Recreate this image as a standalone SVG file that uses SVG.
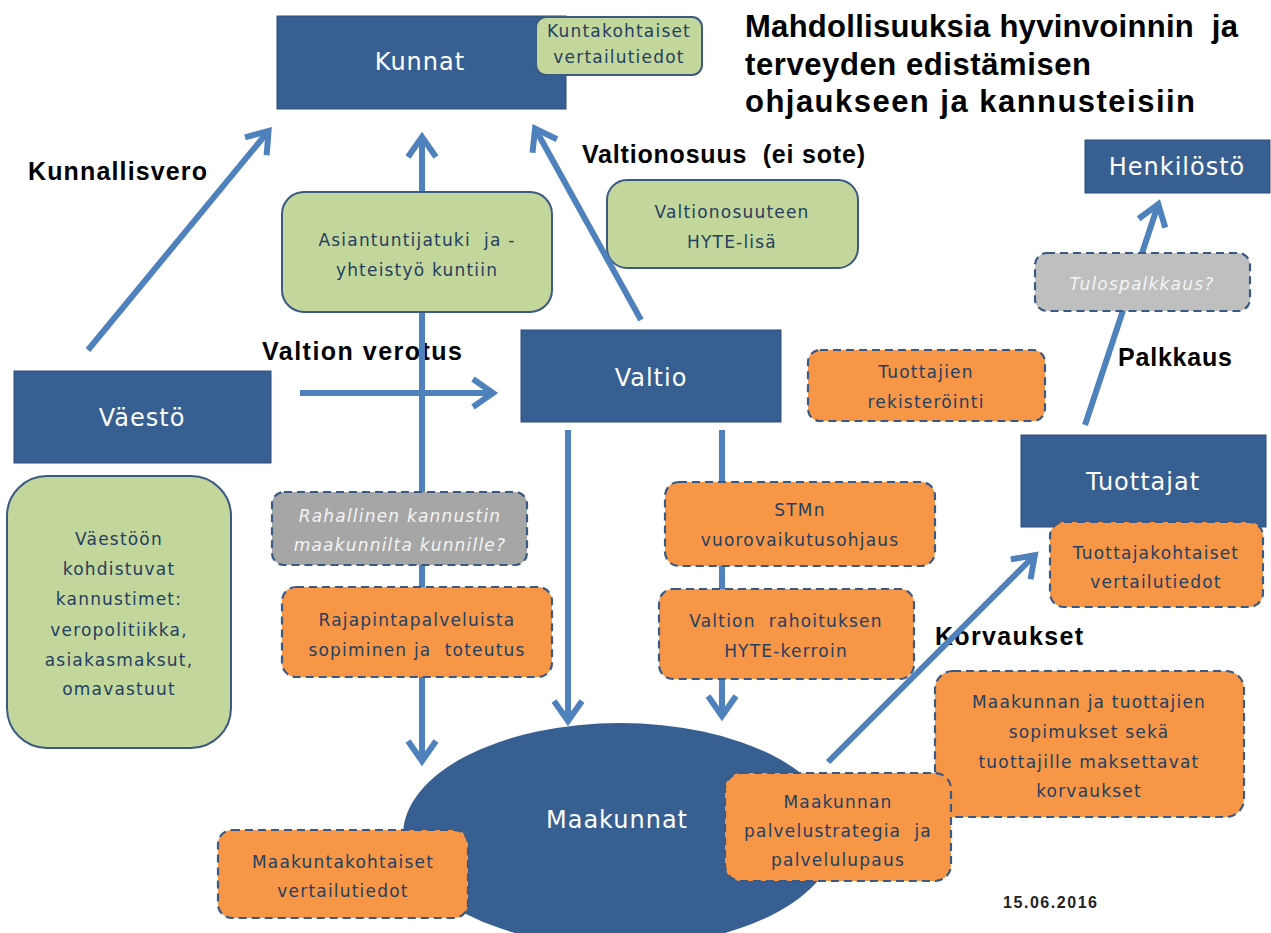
<svg xmlns="http://www.w3.org/2000/svg" width="1271" height="933" viewBox="0 0 1271 933">
<style>
.blue{fill:#375f91;stroke:#2c4d76;stroke-width:1}
.green{fill:#c3d69b;stroke:#3a5a84;stroke-width:2}
.orange{fill:#f79646;stroke:#3a5a84;stroke-width:2.2;stroke-dasharray:8 5}
.gray{fill:#bfbfbf;stroke:#3a5a84;stroke-width:2.2;stroke-dasharray:8 5}
.gray2{fill:#a6a6a6;stroke:#3a5a84;stroke-width:2.2;stroke-dasharray:8 5}
.wt{fill:#fff;font-family:"DejaVu Sans","Liberation Sans",sans-serif;font-size:24px;text-anchor:middle;letter-spacing:1px}
.bt{fill:#243f60;font-family:"DejaVu Sans","Liberation Sans",sans-serif;font-size:17px;text-anchor:middle;letter-spacing:1.2px}
.it{fill:#f4f4f4;font-style:italic}
.lbl{fill:#000;font-family:"Liberation Sans",Arial,sans-serif;font-weight:bold;font-size:25px}
.ttl{fill:#000;font-family:"Liberation Sans",Arial,sans-serif;font-weight:bold;font-size:31px}
.conn{stroke:#4f81bd;stroke-width:6;fill:none}
</style>
<defs>
<marker id="ah" viewBox="0 0 30 34" refX="22" refY="17" markerWidth="30" markerHeight="34" markerUnits="userSpaceOnUse" orient="auto-start-reverse" overflow="visible">
<path d="M6,3 L26,17 L6,31" fill="none" stroke="#4f81bd" stroke-width="6"/>
</marker>
</defs>
<rect width="1271" height="933" fill="#fff"/>

<g id="title">
<text class="ttl" x="745" y="37" textLength="493" xml:space="preserve">Mahdollisuuksia hyvinvoinnin  ja</text>
<text class="ttl" x="745" y="75" textLength="346">terveyden edistämisen</text>
<text class="ttl" x="745" y="112" textLength="450">ohjaukseen ja kannusteisiin</text>
</g>

<g id="labels">
<text class="lbl" x="28" y="180" textLength="179">Kunnallisvero</text>
<text class="lbl" x="582" y="163" textLength="283" xml:space="preserve">Valtionosuus  (ei sote)</text>
<text class="lbl" x="262" y="360" textLength="200">Valtion verotus</text>
<text class="lbl" x="1118" y="366" textLength="114">Palkkaus</text>
<text class="lbl" x="935" y="645" textLength="148">Korvaukset</text>
<text x="1003" y="908" font-family="Liberation Sans, Arial, sans-serif" font-size="16" font-weight="bold" fill="#222" textLength="94">15.06.2016</text>
</g>

<g id="kunnat"><rect class="blue" x="277" y="16" width="289" height="93"/><text class="wt" x="420" y="70">Kunnat</text></g>
<g id="henkilosto"><rect class="blue" x="1085" y="140" width="185" height="53"/><text class="wt" x="1177" y="175">Henkilöstö</text></g>
<g id="vaesto"><rect class="blue" x="14" y="371" width="257" height="92"/><text class="wt" x="142" y="426">Väestö</text></g>
<g id="valtio"><rect class="blue" x="521" y="330" width="260" height="92"/><text class="wt" x="651" y="386">Valtio</text></g>
<g id="tuottajat"><rect class="blue" x="1021" y="435" width="245" height="92"/><text class="wt" x="1143" y="490">Tuottajat</text></g>
<g id="maakunnat"><ellipse cx="620" cy="835" rx="217" ry="112" fill="#375f91"/><text class="wt" x="617" y="828" letter-spacing="2.5">Maakunnat</text></g>

<g id="valtionosuuteen"><rect class="green" x="607" y="180" width="251" height="88" rx="20"/><text class="bt" x="732" y="218">Valtionosuuteen</text><text class="bt" x="732" y="248">HYTE-lisä</text></g>

<g id="connectors">
<line class="conn" x1="88" y1="350" x2="266" y2="134" marker-end="url(#ah)"/>
<line class="conn" x1="422" y1="141" x2="422" y2="757" marker-start="url(#ah)" marker-end="url(#ah)"/>
<line class="conn" x1="300" y1="393" x2="489" y2="393" marker-end="url(#ah)"/>
<line class="conn" x1="641" y1="320" x2="537" y2="132" marker-end="url(#ah)"/>
<line class="conn" x1="568" y1="430" x2="568" y2="717" marker-end="url(#ah)"/>
<line class="conn" x1="722" y1="430" x2="722" y2="712" marker-end="url(#ah)"/>
<line class="conn" x1="828" y1="762" x2="1032" y2="558" marker-end="url(#ah)"/>
<line class="conn" x1="1085" y1="425" x2="1157" y2="208" marker-end="url(#ah)"/>
</g>

<g id="kuntakohtaiset"><rect class="green" x="536" y="17" width="166" height="58" rx="10"/><text class="bt" x="619" y="37" font-size="14" letter-spacing="0.8">Kuntakohtaiset</text><text class="bt" x="619" y="63" font-size="14" letter-spacing="0.8">vertailutiedot</text></g>
<g id="asiantuntijatuki"><rect class="green" x="282" y="192" width="270" height="120" rx="22"/><text class="bt" x="417" y="246" xml:space="preserve">Asiantuntijatuki  ja -</text><text class="bt" x="417" y="276">yhteistyö kuntiin</text></g>
<g id="tulospalkkaus"><rect class="gray" x="1035" y="253" width="215" height="58" rx="12"/><text class="bt it" x="1142" y="290">Tulospalkkaus?</text></g>
<g id="rekisterointi"><rect class="orange" x="808" y="350" width="237" height="71" rx="12"/><text class="bt" x="926" y="378">Tuottajien</text><text class="bt" x="926" y="408">rekisteröinti</text></g>
<g id="vaestoon"><rect class="green" x="7" y="476" width="224" height="272" rx="40"/>
<text class="bt" x="119" y="545">Väestöön</text><text class="bt" x="119" y="575">kohdistuvat</text><text class="bt" x="119" y="605">kannustimet:</text><text class="bt" x="119" y="636">veropolitiikka,</text><text class="bt" x="119" y="666">asiakasmaksut,</text><text class="bt" x="119" y="695">omavastuut</text></g>
<g id="rahallinen"><rect class="gray2" x="272" y="492" width="255" height="73" rx="12"/><text class="bt it" x="400" y="522">Rahallinen kannustin</text><text class="bt it" x="400" y="551">maakunnilta kunnille?</text></g>
<g id="rajapinta"><rect class="orange" x="282" y="587" width="270" height="90" rx="14"/><text class="bt" x="417" y="626">Rajapintapalveluista</text><text class="bt" x="417" y="656" xml:space="preserve">sopiminen ja  toteutus</text></g>
<g id="stmn"><rect class="orange" x="665" y="482" width="270" height="84" rx="14"/><text class="bt" x="800" y="516">STMn</text><text class="bt" x="800" y="546">vuorovaikutusohjaus</text></g>
<g id="tuottajakohtaiset"><rect class="orange" x="1050" y="522" width="213" height="85" rx="14"/><text class="bt" x="1156" y="559">Tuottajakohtaiset</text><text class="bt" x="1156" y="588">vertailutiedot</text></g>
<g id="rahoituksen"><rect class="orange" x="659" y="589" width="255" height="90" rx="14"/><text class="bt" x="786" y="627" xml:space="preserve">Valtion  rahoituksen</text><text class="bt" x="786" y="657">HYTE-kerroin</text></g>
<g id="sopimukset"><rect class="orange" x="935" y="671" width="309" height="146" rx="18"/><text class="bt" x="1089" y="708">Maakunnan ja tuottajien</text><text class="bt" x="1089" y="738">sopimukset sekä</text><text class="bt" x="1089" y="768">tuottajille maksettavat</text><text class="bt" x="1089" y="797">korvaukset</text></g>
<g id="palvelustrategia"><rect class="orange" x="725" y="773" width="226" height="108" rx="16"/><text class="bt" x="838" y="808">Maakunnan</text><text class="bt" x="838" y="837" xml:space="preserve">palvelustrategia  ja</text><text class="bt" x="838" y="866">palvelulupaus</text></g>
<g id="maakuntakohtaiset"><rect class="orange" x="218" y="830" width="250" height="88" rx="14"/><text class="bt" x="343" y="868">Maakuntakohtaiset</text><text class="bt" x="343" y="897">vertailutiedot</text></g>
</svg>
